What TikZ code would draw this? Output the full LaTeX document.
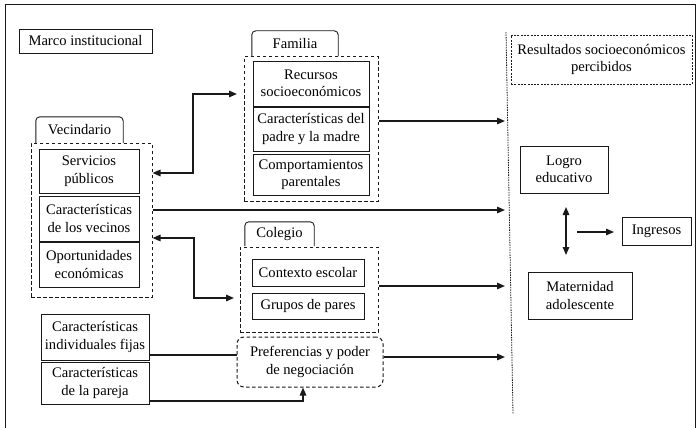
\documentclass[tikz,border=0pt]{standalone}
\usepackage{fontspec}
\setmainfont{Liberation Serif}
\usetikzlibrary{arrows.meta}
\begin{document}
\begin{tikzpicture}[x=1pt,y=-1pt,
  font=\fontsize{14.6}{17.5}\selectfont,
  box/.style={draw=black!90,line width=0.9pt,inner sep=0pt,align=center,rectangle},
  grp/.style={draw=black!90,line width=1pt,dash pattern=on 3.5pt off 2.5pt,inner sep=0pt,rectangle},
  fine/.style={draw=black!90,line width=0.8pt,dash pattern=on 2pt off 1.3pt,inner sep=0pt,align=center,rectangle},
  tabbox/.style={inner sep=0pt,align=center},
  conn/.style={line width=1.4pt,draw=black!90,-{Triangle[length=8pt,width=6.5pt]}},
  dconn/.style={line width=1.4pt,draw=black!90,{Triangle[length=8pt,width=6.5pt]}-{Triangle[length=8pt,width=6.5pt]}},
  plain/.style={line width=1.4pt,draw=black!90}]
\useasboundingbox (0,0) rectangle (696,428);
% frame
\draw[line width=1pt,black!90] (5,430) -- (5,5) -- (695,5) -- (695,430);

\node[box,minimum width=133pt,minimum height=24pt] (marco) at (85.5,41) {Marco institucional};

% Familia
\node[tabbox,minimum width=86pt,minimum height=25pt] (famtab) at (295,43.5) {Familia};
\draw[line width=0.9pt,black!90,rounded corners=4pt] (famtab.south west) -- (famtab.north west) -- (famtab.north east) -- (famtab.south east);
\node[grp,minimum width=134pt,minimum height=144pt] (famdash) at (311,129) {};
\node[box,minimum width=116pt,minimum height=45pt] (rec) at (311,83.5) {Recursos\\socioeconómicos};
\node[box,minimum width=116pt,minimum height=44pt] (car) at (311,129) {Características del\\padre y la madre};
\node[box,minimum width=116pt,minimum height=41pt] (comp) at (311,174.5) {Comportamientos\\parentales};

% Vecindario
\node[tabbox,minimum width=87pt,minimum height=26pt] (vectab) at (79.5,130) {Vecindario};
\draw[line width=0.9pt,black!90,rounded corners=4pt] (vectab.south west) -- (vectab.north west) -- (vectab.north east) -- (vectab.south east);
\node[grp,minimum width=121pt,minimum height=154pt] (vecdash) at (91.5,220) {};
\node[box,minimum width=100pt,minimum height=44pt] (serv) at (89,171) {Servicios\\públicos};
\node[box,minimum width=100pt,minimum height=45pt] (vec) at (89,218.5) {Características\\de los vecinos};
\node[box,minimum width=100pt,minimum height=45pt] (oport) at (89,264.5) {Oportunidades\\económicas};

% Colegio
\node[tabbox,minimum width=69pt,minimum height=24pt] (coltab) at (279.5,234) {Colegio};
\draw[line width=0.9pt,black!90,rounded corners=4pt] (coltab.south west) -- (coltab.north west) -- (coltab.north east) -- (coltab.south east);
\node[grp,minimum width=138pt,minimum height=85pt] (coldash) at (309,289.5) {};
\node[box,minimum width=112pt,minimum height=27pt] (ctx) at (308,272.5) {Contexto escolar};
\node[box,minimum width=112pt,minimum height=26pt] (gru) at (308,306) {Grupos de pares};

% Preferencias
\node[grp,rounded corners=7pt,align=center,minimum width=146pt,minimum height=50pt] (pref) at (310,362) {Preferencias y poder\\de negociación};

% individual
\node[box,minimum width=108pt,minimum height=46pt] (ind) at (95,337) {Características\\individuales fijas};
\node[box,minimum width=108pt,minimum height=42pt] (par) at (95,383) {Características\\de la pareja};

% Results
\draw[line width=0.8pt,black!90,dash pattern=on 1.5pt off 1pt] (506,32) -- (513,414);
\node[fine,minimum width=181pt,minimum height=49pt] (res) at (601.5,59.5) {Resultados socioeconómicos\\percibidos};
\node[box,minimum width=88pt,minimum height=47pt] (logro) at (564,169.5) {Logro\\educativo};
\node[box,minimum width=69pt,minimum height=28pt] (ing) at (656.5,231) {Ingresos};
\node[box,minimum width=104pt,minimum height=47pt] (mat) at (580,295.5) {Maternidad\\adolescente};

% coordinates
\coordinate (r1) at (505,121);
\coordinate (r2) at (505,210);
\coordinate (r3) at (505,286);
\coordinate (r4) at (505,357);
\coordinate (k0) at (237,94);
\coordinate (k1) at (193,94);
\coordinate (k2) at (193,173);
\coordinate (m0) at (234,298);
\coordinate (m1) at (194,298);
\coordinate (m2) at (194,238);
\coordinate (j1) at (237,355);
\coordinate (p1) at (303,401);
\coordinate (d1) at (566,207);
\coordinate (d2) at (566,255);
\coordinate (i0) at (577,232);
\coordinate (i1) at (614,232);

% connectors
\draw[conn] (famdash.east |- r1) -- (r1);
\draw[conn] (vecdash.east |- r2) -- (r2);
\draw[conn] (coldash.east |- r3) -- (r3);
\draw[conn] (pref.east |- r4) -- (r4);
\draw[dconn] (k0) -- (k1) -- (k2) -- (vecdash.east |- k2);
\draw[dconn] (m0) -- (m1) -- (m2) -- (vecdash.east |- m2);
\draw[plain] (ind.east |- j1) -- (pref.west |- j1);
\draw[conn] (par.east |- p1) -- (p1) -- (pref.south -| p1);
\draw[dconn] (d1) -- (d2);
\draw[conn] (i0) -- (i1);
\end{tikzpicture}
\end{document}
